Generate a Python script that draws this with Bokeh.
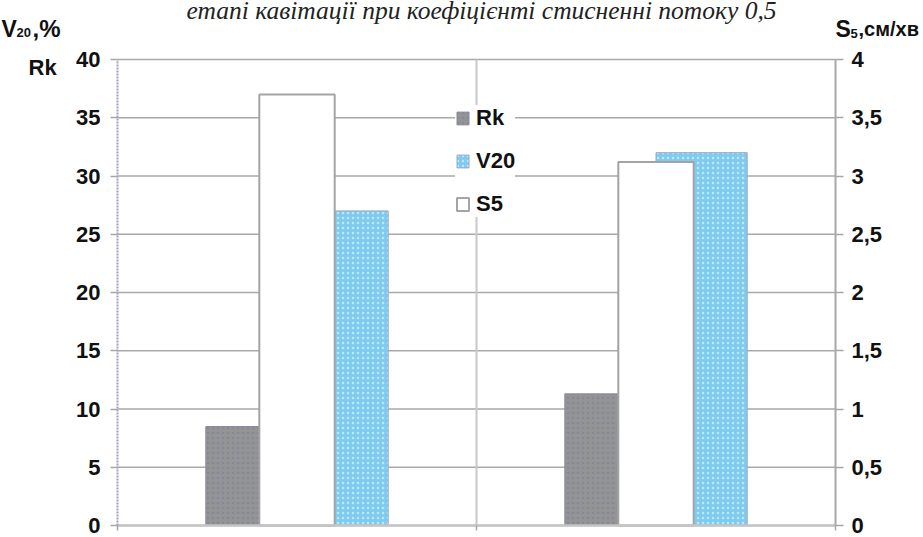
from bokeh.plotting import figure
from bokeh.models import (Range1d, LinearAxis, FixedTicker, CustomJSTickFormatter,
                          Label, Legend, LegendItem, ColumnDataSource)
from bokeh.transform import dodge
from bokeh.embed import file_html
from bokeh.resources import INLINE

# two unlabeled groups of bars, centred at 0.5 and 1.5 on the x axis
group_x = [0.5, 1.5]
rk = [8.5, 11.3]          # Rk, left axis
v20 = [27.0, 32.0]        # V20, %, left axis
s5 = [3.7, 3.12]          # S5, см/хв, right axis
left_ticks = [0, 5, 10, 15, 20, 25, 30, 35, 40]
right_ticks = [0, 0.5, 1, 1.5, 2, 2.5, 3, 3.5, 4]
title_text = "етапі кавітації при коефіцієнті стисненні потоку 0,5"

W, H = 923, 537
# plot area in canvas pixels; the data ranges are stretched over the whole canvas
# so that the axes (pinned with fixed_location) and the free texts share one frame
PX_L, PX_R, PX_T, PX_B = 117, 835, 59, 525
kx = (PX_R - PX_L) / 2.0
ky = (PX_B - PX_T) / 40.0

src = ColumnDataSource(dict(x=group_x, rk=rk, v20=v20, s5=s5))
grid_src = ColumnDataSource(dict(y=left_ticks))

FONT = "Liberation Sans"

p = figure(width=W, height=H, output_backend="svg", toolbar_location=None,
           x_range=Range1d(-PX_L / kx, 2 + (W - PX_R) / kx),
           y_range=Range1d(-(H - PX_B) / ky, 40 + PX_T / ky),
           min_border=0, background_fill_color="white")
p.outline_line_color = None
p.extra_y_ranges = {"s": Range1d(-(H - PX_B) / ky / 10, 4 + PX_T / ky / 10)}
p.xgrid.visible = False
p.ygrid.visible = False


def style_axis(ax, line_color, tick_out, standoff):
    ax.axis_line_color = line_color
    ax.axis_line_width = 2
    ax.major_tick_line_color = "#a6a6a6"
    ax.major_tick_line_width = 1.5
    ax.major_tick_out = tick_out
    ax.major_tick_in = 0
    ax.minor_tick_line_color = None
    ax.major_label_standoff = standoff
    ax.major_label_text_font = FONT
    ax.major_label_text_font_size = "22px"
    ax.major_label_text_font_style = "bold"
    ax.major_label_text_color = "#111111"


# left axis (Rk, V20)
ya = p.yaxis[0]
ya.ticker = FixedTicker(ticks=left_ticks)
ya.fixed_location = 0
ya.bounds = (0, 40)
style_axis(ya, "#9ea3b8", 7, 10)
ya.axis_line_dash = "2 1"

# right axis (S5), decimal comma
ra = LinearAxis(y_range_name="s", ticker=FixedTicker(ticks=right_ticks),
                formatter=CustomJSTickFormatter(code="return tick.toString().replace('.', ',');"),
                fixed_location=2, bounds=(0, 4))
style_axis(ra, "#a8a8a8", 8, 8)
p.add_layout(ra, "right")

# bottom axis: line and group boundary ticks only, no labels
xa = p.xaxis[0]
xa.ticker = FixedTicker(ticks=[0, 1, 2])
xa.fixed_location = 0
xa.bounds = (0, 2)
style_axis(xa, "#c4c4c4", 5, 0)
xa.axis_line_width = 2.5
xa.formatter = CustomJSTickFormatter(code="return '';")

# horizontal grid lines at the left-axis ticks and the divider between groups
p.segment(x0=0, x1=2, y0="y", y1="y", source=grid_src, line_color="#a9a9a9", line_width=1.5)
p.segment(x0=[1], x1=[1], y0=[0], y1=[40], line_color="#c8c8c8", line_width=2)

r_rk = p.vbar(x=dodge("x", -0.127, range=p.x_range), top="rk", width=0.254, source=src,
              fill_color="#949494", line_color="#8a8a9a", line_width=1,
              hatch_pattern="dot", hatch_color="#7078a8", hatch_scale=5, hatch_weight=1,
              hatch_alpha=0.45)
r_v20 = p.vbar(x=dodge("x", 0.127, range=p.x_range), top="v20", width=0.254, source=src,
               fill_color="#80caf0", line_color="#9aa6b8", line_width=1,
               hatch_pattern="dot", hatch_color="#c4f2ff", hatch_scale=5, hatch_weight=1,
               hatch_alpha=0.8)
r_s5 = p.vbar(x="x", top="s5", width=0.21, source=src, y_range_name="s",
              fill_color="white", line_color="#a4a4a4", line_width=2)

legend = Legend(items=[LegendItem(label="Rk", renderers=[r_rk]),
                       LegendItem(label="V20", renderers=[r_v20]),
                       LegendItem(label="S5", renderers=[r_s5])],
                location=(455, 320), orientation="vertical",
                background_fill_color="white", background_fill_alpha=1,
                border_line_color=None, padding=5, margin=0,
                glyph_width=15, glyph_height=16, label_height=24, spacing=17,
                label_standoff=6, label_text_font=FONT, label_text_font_size="22px",
                label_text_font_style="bold", label_text_color="#111111")
p.add_layout(legend, "center")


def text(s, cx, cy, size="22px", style="bold", font=FONT, align="left", color="#111111"):
    # cx, cy: canvas pixel position of the text baseline
    p.add_layout(Label(x=cx, y=cy, x_units="canvas", y_units="canvas", text=s,
                       text_font=font, text_font_size=size, text_font_style=style,
                       text_align=align, text_baseline="alphabetic", text_color=color))


# caption line at the very top edge of the chart
text(title_text, 481, 10, size="25.5px", style="italic", font="Liberation Serif",
     align="center", color="#222222")

# axis titles
text("V", 1, 28, size="23px")
text("20", 16, 32, size="13px")
text(",%", 32, 28, size="24px")
text("Rk", 28, 67)
text("S", 835, 28, size="23px")
text("5", 850, 33, size="13px")
text(",см/хв", 858, 28, size="20px")

open("out.html", "w").write(file_html(p, INLINE))
